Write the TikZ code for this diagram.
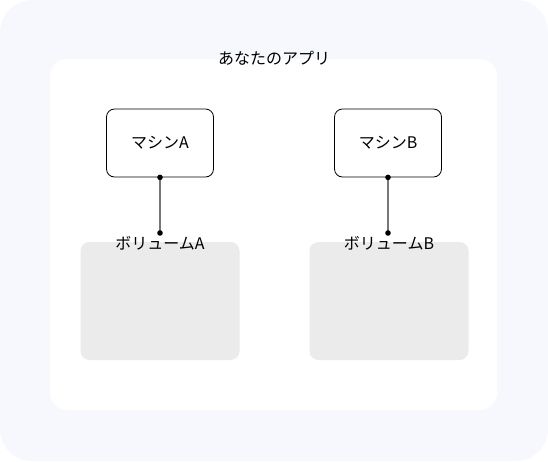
\documentclass[tikz,border=0pt]{standalone}
\usepackage{fontspec}
\setmainfont{Noto Sans CJK JP}
\definecolor{appbg}{HTML}{F7F8FE}
\definecolor{volgray}{HTML}{EBEBEB}
\definecolor{linkgray}{HTML}{777777}

\begin{document}
\begin{tikzpicture}[x=1pt, y=-1pt,
  machine/.style={draw=black, line width=0.8pt, rounded corners=8pt, minimum width=107pt, minimum height=68pt, font=\fontsize{16}{18}\selectfont},
  volume/.style={fill=volgray, rounded corners=9pt, minimum width=159pt, minimum height=118pt},
  lbl/.style={font=\fontsize{16}{18}\selectfont, inner sep=1pt},
  link/.style={draw=linkgray, line width=1.8pt},
  pin/.style={fill=black}]

  \useasboundingbox (0,0) rectangle (548,461);
  \fill[appbg, rounded corners=32pt](0,0) rectangle (548,461);
  \fill[white, rounded corners=17pt](50,59) rectangle (497,410);

  \node[lbl] (title) at (274,58) {あなたのアプリ};

  \node[machine] (macA) at (160,143) {マシンA};
  \node[machine] (macB) at (388,143) {マシンB};

  \node[volume] (volA) at (160,301) {};
  \node[volume] (volB) at (389,301) {};
  \node[lbl] (volAlbl) at (160,243) {ボリュームA};
  \node[lbl] (volBlbl) at (389,243) {ボリュームB};

  \coordinate (pinA) at (160,233);
  \coordinate (pinB) at (388,233);

\draw[link](macA.south)--(pinA);
\draw[link](macB.south)--(pinB);
  \foreach \p in {macA.south, pinA, macB.south, pinB}
    \fill[pin](\p) circle (2.8pt);
\end{tikzpicture}
\end{document}
